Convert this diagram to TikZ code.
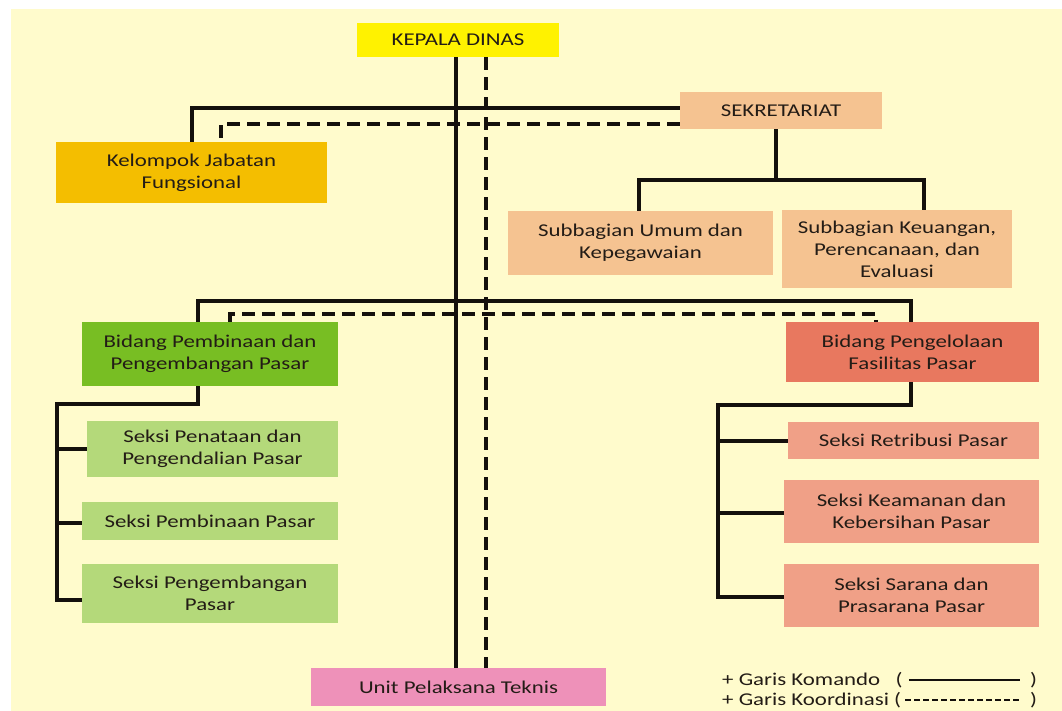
\documentclass[tikz,border=0pt]{standalone}
\usepackage{fontspec}
\setmainfont{Carlito}[FakeStretch=1.27]
\definecolor{bg}{RGB}{255,251,204}
\definecolor{txt}{RGB}{35,28,22}
\definecolor{ckd}{RGB}{255,242,0}
\definecolor{csek}{RGB}{245,195,145}
\definecolor{ckjf}{RGB}{244,190,0}
\definecolor{cbp1}{RGB}{120,190,35}
\definecolor{cbp2}{RGB}{232,120,95}
\definecolor{cs1}{RGB}{180,217,122}
\definecolor{cs2}{RGB}{240,160,135}
\definecolor{cupt}{RGB}{238,145,185}
\definecolor{ln}{RGB}{20,16,12}
\tikzset{
  box/.style={inner sep=0pt, align=center, text=txt, font=\fontsize{18}{22}\selectfont},
  cmd/.style={line width=4pt, draw=ln},
  crd/.style={line width=4pt, draw=ln, dash pattern=on 13pt off 7pt},
  legtxt/.style={inner sep=0pt, text=txt, font=\fontsize{18}{22}\selectfont}
}
\begin{document}
\begin{tikzpicture}[x=1pt,y=-1pt]
\useasboundingbox (0,0) rectangle (1062,711);
\fill[white] (0,0) rectangle (1062,711);
\fill[bg] (11,9) rectangle (1062,711);

% nodes
\node[box, fill=ckd, minimum width=202pt, minimum height=34pt] (kd) at (458,40) {KEPALA DINAS};
\node[box, fill=csek, minimum width=202pt, minimum height=37pt] (sek) at (781,110.5) {SEKRETARIAT};
\node[box, fill=ckjf, minimum width=271pt, minimum height=61pt] (kjf) at (191.5,172.5) {Kelompok Jabatan\\Fungsional};
\node[box, fill=csek, minimum width=265pt, minimum height=64pt] (sub1) at (640.5,243) {Subbagian Umum dan\\Kepegawaian};
\node[box, fill=csek, minimum width=230pt, minimum height=78pt] (sub2) at (897,249) {Subbagian Keuangan,\\Perencanaan, dan\\Evaluasi};
\node[box, fill=cbp1, minimum width=256pt, minimum height=64pt] (bp1) at (210,354) {Bidang Pembinaan dan\\Pengembangan Pasar};
\node[box, fill=cbp2, minimum width=253pt, minimum height=60pt] (bp2) at (912.5,352) {Bidang Pengelolaan\\Fasilitas Pasar};
\node[box, fill=cs1, minimum width=251pt, minimum height=56pt] (s11) at (212.5,449) {Seksi Penataan dan\\Pengendalian Pasar};
\node[box, fill=cs1, minimum width=256pt, minimum height=38pt] (s12) at (210,521) {Seksi Pembinaan Pasar};
\node[box, fill=cs1, minimum width=256pt, minimum height=59pt] (s13) at (210,593.5) {Seksi Pengembangan\\Pasar};
\node[box, fill=cs2, minimum width=251pt, minimum height=37pt] (s21) at (913.5,440.5) {Seksi Retribusi Pasar};
\node[box, fill=cs2, minimum width=255pt, minimum height=63pt] (s22) at (911.5,511.5) {Seksi Keamanan dan\\Kebersihan Pasar};
\node[box, fill=cs2, minimum width=255pt, minimum height=63pt] (s23) at (911.5,595.5) {Seksi Sarana dan\\Prasarana Pasar};
\node[box, fill=cupt, minimum width=295pt, minimum height=38pt] (upt) at (458.5,687) {Unit Pelaksana Teknis};

% trunk
\draw[cmd] ([xshift=-2pt]kd.south) -- ([xshift=-2pt]kd.south |- upt.north);
\draw[crd] ([xshift=28pt]kd.south) -- ([xshift=28pt]kd.south |- upt.north);

% sekretariat and kelompok
\draw[cmd] ([yshift=2.5pt]sek.west) -| (kjf.north);
\draw[crd] ([yshift=-13.5pt]sek.west) -| ([xshift=29.5pt]kjf.north);
\coordinate (sj) at (776,180);
\draw[cmd] (sek.south -| sj) -- (sj);
\draw[cmd] ([xshift=-2pt]sub1.north) |- (sj) -| ([xshift=27pt]sub2.north);

% bidang
\draw[cmd] ([xshift=-12pt]bp1.north) -- ++(0,-21) -| ([xshift=-2pt]bp2.north);
\draw[crd] ([xshift=20pt]bp1.north) -- ++(0,-8) -| ([xshift=-36.5pt]bp2.north);

% left seksi
\coordinate (lx) at (57,404);
\draw[cmd] ([xshift=-12pt]bp1.south) |- (lx) |- ([yshift=-6.5pt]s13.west);
\draw[cmd] (lx |- s11.west) -- (s11.west);
\draw[cmd] ([yshift=-2pt]lx |- s12.west) -- ([yshift=-2pt]s12.west);

% right seksi
\coordinate (rx) at (718,405);
\draw[cmd] ([xshift=-2pt]bp2.south) |- (rx) |- ([yshift=-1.5pt]s23.west);
\draw[cmd] (rx |- s21.west) -- (s21.west);
\draw[cmd] ([yshift=-1pt]rx |- s22.west) -- ([yshift=-1pt]s22.west);

% legend
\node[legtxt, anchor=west] (l1) at (722,680) {+ Garis Komando~~~(};
\node[legtxt, anchor=west] (l1r) at (1030,680) {)};
\draw[line width=1.6pt, draw=ln] ([xshift=6pt]l1.east) -- ([xshift=-10pt]l1r.west);
\node[legtxt, anchor=west] (l2) at (722,700) {+ Garis Koordinasi~(};
\node[legtxt, anchor=west] (l2r) at (1030,700) {)};
\draw[line width=1.6pt, draw=ln, dash pattern=on 6pt off 3pt] ([xshift=4pt]l2.east) -- ([xshift=-8pt]l2r.west);
\end{tikzpicture}
\end{document}
